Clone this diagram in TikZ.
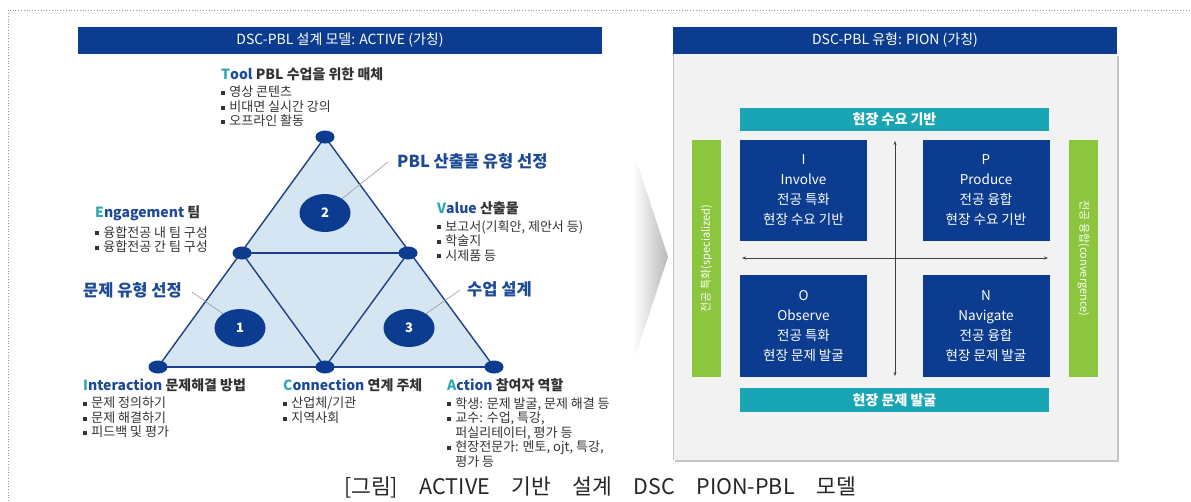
\documentclass[tikz,border=0pt]{standalone}
\usepackage{fontspec}
\setmainfont{Noto Sans CJK KR}
\usetikzlibrary{shapes.geometric,arrows.meta,calc}
\definecolor{dblue}{HTML}{0B3C8F}
\definecolor{lineblue}{HTML}{1E3F86}
\definecolor{trifill}{HTML}{D5E5F1}
\definecolor{tealc}{HTML}{2BA6B5}
\definecolor{hblue}{HTML}{1D4A96}
\definecolor{tealbar}{HTML}{1AA5B5}
\definecolor{greenbar}{HTML}{8CC63F}
\definecolor{panelbg}{HTML}{F2F2F2}
\definecolor{shadowc}{HTML}{C4C4C4}
\definecolor{txt}{HTML}{333333}
\newcommand\sq{\textcolor{txt}{\rule[0.12em]{0.33em}{0.33em}}\hspace{0.3em}}
\newcommand\Fl[2]{{\color{tealc}#1}{\color{hblue}#2}}
\pgfdeclarelayer{bg}
\pgfsetlayers{bg,main}
\begin{document}
\begin{tikzpicture}[x=1pt,y=-1pt,
  titlebar/.style={fill=dblue, inner sep=0, text=white, font=\fontsize{14}{16}\selectfont},
  vtx/.style={ellipse, fill=dblue, minimum width=19pt, minimum height=13pt, inner sep=0},
  num/.style={ellipse, fill=dblue, minimum width=51pt, minimum height=38pt, inner sep=0, text=white, font=\fontsize{13}{15}\selectfont\bfseries},
  head/.style={anchor=west, inner sep=0, text=txt, font=\fontsize{14}{16}\selectfont\bfseries},
  bul/.style={anchor=north west, inner sep=0, align=left, text=txt, font=\fontsize{13}{14.5}\selectfont},
  big/.style={inner sep=0, text=hblue, font=\fontsize{16.5}{19}\selectfont\bfseries},
  leader/.style={draw=gray!80, line width=0.6pt},
  edge/.style={draw=lineblue, line width=1.4pt},
  qbox/.style={fill=dblue, minimum width=127pt, minimum height=101pt, inner sep=0, text=white, align=center, font=\fontsize{13.5}{20}\selectfont},
  tbar/.style={fill=tealbar, minimum width=309pt, minimum height=23pt, inner sep=0, text=white, font=\fontsize{14}{16}\selectfont\bfseries},
  gbar/.style={fill=greenbar, minimum width=237pt, minimum height=29pt, inner sep=0, text=white, font=\fontsize{11}{12}\selectfont},
  axis/.style={draw=black!75, line width=0.7pt, {Stealth[length=4pt,width=3pt]}-{Stealth[length=4pt,width=3pt]}}
]
\useasboundingbox (0,0) rectangle (1191,501);
% dotted frame
\draw[gray!80, dotted, line width=0.8pt] (8,501) -- (8,10) -- (1191,10);

% ===== left part =====
\node[titlebar, minimum width=524pt, minimum height=27pt] (lt) at (340,40.5) {DSC-PBL 설계 모델: ACTIVE (가칭)};

\node[vtx] (A) at (325,137) {};
\node[vtx] (B) at (242,253) {};
\node[vtx] (C) at (408,253) {};
\node[vtx] (D) at (158,367) {};
\node[vtx] (E) at (325,367) {};
\node[vtx] (F) at (494,367) {};
\begin{pgfonlayer}{bg}
  \fill[trifill] (A.center) -- (D.center) -- (F.center) -- cycle;
  \draw[edge] (A.center) -- (D.center);
  \draw[edge] (A.center) -- (F.center);
  \draw[edge] (D.center) -- (F.center);
  \draw[edge] (B.center) -- (C.center);
  \draw[edge] (B.center) -- (E.center);
  \draw[edge] (C.center) -- (E.center);
\end{pgfonlayer}

\node[num] (n2) at (325,213) {2};
\node[num] (n1) at (240,328) {1};
\node[num] (n3) at (409,328) {3};

\node[big, anchor=west] (l2) at (397,161) {PBL 산출물 유형 선정};
\node[big, anchor=east] (l1) at (182,290) {문제 유형 선정};
\node[big, anchor=west] (l3) at (467,289) {수업 설계};
\draw[leader] (n2.40) -- ([xshift=-9pt,yshift=-1pt]l2.west);
\draw[leader] (n1.140) -- ([xshift=10pt,yshift=-2pt]l1.east);
\draw[leader] (n3.40) -- ([xshift=-7pt,yshift=-1pt]l3.west);

\node[head] (th) at (221,74) {\Fl{T}{ool} PBL 수업을 위한 매체};
\node[bul] (tb) at (221,86) {\sq 영상 콘텐츠\\ \sq 비대면 실시간 강의\\ \sq 오프라인 활동};
\node[head] (eh) at (95,213) {\Fl{E}{ngagement} 팀};
\node[bul] (eb) at (95,226) {\sq 융합전공 내 팀 구성\\ \sq 융합전공 간 팀 구성};
\node[head] (vh) at (437,208) {\Fl{V}{alue} 산출물};
\node[bul] (vb) at (437,220) {\sq 보고서(기획안, 제안서 등)\\ \sq 학술지\\ \sq 시제품 등};
\node[head] (ih) at (83,385) {\Fl{I}{nteraction} 문제해결 방법};
\node[bul] (ib) at (83,397) {\sq 문제 정의하기\\ \sq 문제 해결하기\\ \sq 피드백 및 평가};
\node[head] (ch) at (283,385) {\Fl{C}{onnection} 연계 주체};
\node[bul] (cb) at (283,397) {\sq 산업체/기관\\ \sq 지역사회};
\node[head] (ah) at (447,385) {\Fl{A}{ction} 참여자 역할};
\node[bul] (ab) at (447,397) {\sq 학생: 문제 발굴, 문제 해결 등\\ \sq 교수: 수업, 특강,\\ \phantom{\sq}퍼실리테이터, 평가 등\\ \sq 현장전문가: 멘토, ojt, 특강,\\ \phantom{\sq}평가 등};

% chevron
\shade[left color=white, right color=gray!55] (633,150) -- (668,257) -- (633,363) -- cycle;

% ===== right part =====
\fill[shadowc] (675,56) rectangle (1119,462);
\fill[panelbg] (673,54) rectangle (1117,460);
\draw[shadowc, line width=0.8pt] (673,54) -- (673,460);
\node[titlebar, minimum width=444pt, minimum height=27pt] (rt) at (895,40.5) {DSC-PBL 유형: PION (가칭)};

\node[tbar] (top) at (894.5,119.5) {현장 수요 기반};
\node[tbar, minimum height=24pt] (bot) at (894.5,400) {현장 문제 발굴};
\node[gbar, rotate=90] (gl) at (706.5,258.5) {전공 특화(specialized)};
\node[gbar, rotate=-90] (gr) at (1083.5,258.5) {전공 융합(convergence)};

\node[qbox] (qI) at (803.5,190.5) {I\\Involve\\전공 특화\\현장 수요 기반};
\node[qbox] (qP) at (986,190.5) {P\\Produce\\전공 융합\\현장 수요 기반};
\node[qbox, minimum height=102pt] (qO) at (803.5,326) {O\\Observe\\전공 특화\\현장 문제 발굴};
\node[qbox, minimum height=102pt] (qN) at (986,326) {N\\Navigate\\전공 융합\\현장 문제 발굴};

\coordinate (vt) at (895,141);
\coordinate (vbt) at (895,376);
\coordinate (hl) at (742,258);
\coordinate (hr) at (1048,258);
\draw[axis] (vt) -- (vbt);
\draw[axis] (hl) -- (hr);

% caption
\node[inner sep=0, text=black!85, font=\fontsize{21.5}{24}\selectfont] (cap) at (600,487) {[그림]\hspace{1em}ACTIVE\hspace{1em}기반\hspace{1em}설계\hspace{1em}DSC\hspace{1em}PION-PBL\hspace{1em}모델};
\end{tikzpicture}
\end{document}
